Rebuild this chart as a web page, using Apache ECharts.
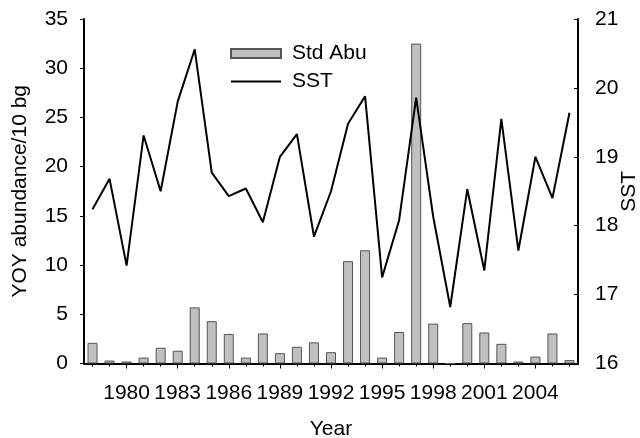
<!DOCTYPE html>
<html>
<head>
<meta charset="utf-8">
<script src="https://cdn.jsdelivr.net/npm/echarts@6/dist/echarts.min.js"></script>
<style>
  html, body { margin: 0; padding: 0; background: #fff; }
  #chart { width: 640px; height: 438px; }
</style>
</head>
<body>
<div id="chart"></div>
<script>
// Survey years
const years = ['1978','1979','1980','1981','1982','1983','1984','1985','1986','1987',
  '1988','1989','1990','1991','1992','1993','1994','1995','1996','1997',
  '1998','1999','2000','2001','2002','2003','2004','2005','2006'];

// Standardised YOY abundance per 10 beach-seine hauls
const stdAbu = [2.1, 0.3, 0.2, 0.6, 1.6, 1.3, 5.7, 4.3, 3.0, 0.6,
  3.05, 1.05, 1.7, 2.15, 1.15, 10.4, 11.5, 0.6, 3.2, 32.5,
  4.05, 0, 4.1, 3.15, 2.0, 0.2, 0.7, 3.05, 0.35];

// Sea surface temperature
const sst = [18.24, 18.68, 17.42, 19.31, 18.50, 19.80, 20.56, 18.77, 18.43, 18.54,
  18.05, 19.00, 19.33, 17.84, 18.50, 19.48, 19.88, 17.25, 18.08, 19.86,
  18.13, 16.82, 18.53, 17.35, 19.55, 17.64, 19.00, 18.40, 19.64];

const FONT = 'Liberation Sans, Arial, sans-serif';
const FS = 21;
const labelEvery3 = (i) => (i - 2) % 3 === 0;

const chart = echarts.init(document.getElementById('chart'), null, { renderer: 'canvas' });

chart.setOption({
  animation: false,
  backgroundColor: '#fff',
  textStyle: { fontFamily: FONT, color: '#000' },
  grid: { left: 84, right: 62, top: 19, bottom: 74.5, outerBoundsMode: 'none', containLabel: false },
  legend: {
    orient: 'vertical',
    left: 225,
    top: 38,
    itemWidth: 50,
    itemHeight: 9,
    itemGap: 7,
    symbolKeepAspect: true,
    textStyle: { fontFamily: FONT, fontSize: FS, color: '#000', lineHeight: 21, padding: [0, 0, 0, 6] },
    data: [
      { name: 'Std Abu', icon: 'rect' },
      { name: 'SST', icon: 'path://M0,0L50,0L50,2L0,2Z', itemStyle: { color: '#000', borderWidth: 0 } }
    ]
  },
  xAxis: [
    {
      type: 'category',
      data: years,
      boundaryGap: true,
      name: 'Year',
      nameLocation: 'middle',
      nameGap: 55,
      nameMoveOverlap: false,
      nameTextStyle: { fontFamily: FONT, fontSize: FS, color: '#000' },
      axisLine: { lineStyle: { color: '#000', width: 2 } },
      axisTick: { show: true, alignWithLabel: true, interval: labelEvery3, length: 5, lineStyle: { color: '#000', width: 1 } },
      axisLabel: { interval: labelEvery3, margin: 19, fontFamily: FONT, fontSize: FS, color: '#000' },
      splitLine: { show: false }
    },
    {
      type: 'category',
      data: years,
      boundaryGap: true,
      position: 'bottom',
      axisLine: { show: false },
      axisTick: { show: true, alignWithLabel: true, interval: 0, length: 3, lineStyle: { color: '#000', width: 1 } },
      axisLabel: { show: false },
      splitLine: { show: false }
    }
  ],
  yAxis: [
    {
      type: 'value',
      min: 0,
      max: 35,
      interval: 5,
      position: 'left',
      name: 'YOY abundance/10 bg',
      nameLocation: 'middle',
      nameGap: 53,
      nameMoveOverlap: false,
      nameTextStyle: { fontFamily: FONT, fontSize: FS, color: '#000' },
      axisLine: { show: true, lineStyle: { color: '#000', width: 2 } },
      axisTick: { show: true, length: 4, lineStyle: { color: '#000', width: 1 } },
      axisLabel: { margin: 16, fontFamily: FONT, fontSize: FS, color: '#000' },
      splitLine: { show: false }
    },
    {
      type: 'value',
      min: 16,
      max: 21,
      interval: 1,
      position: 'right',
      name: 'SST',
      nameLocation: 'middle',
      nameGap: 41,
      nameMoveOverlap: false,
      nameTextStyle: { fontFamily: FONT, fontSize: FS, color: '#000' },
      axisLine: { show: true, lineStyle: { color: '#000', width: 2 } },
      axisTick: { show: true, inside: true, length: 4, lineStyle: { color: '#000', width: 1 } },
      axisLabel: { margin: 17, fontFamily: FONT, fontSize: FS, color: '#000' },
      splitLine: { show: false }
    }
  ],
  series: [
    {
      name: 'Std Abu',
      type: 'bar',
      xAxisIndex: 0,
      yAxisIndex: 0,
      data: stdAbu,
      barWidth: 10,
      itemStyle: { color: '#c0c0c0', borderColor: '#555', borderWidth: 1 }
    },
    {
      name: 'SST',
      type: 'line',
      xAxisIndex: 0,
      yAxisIndex: 1,
      data: sst,
      symbol: 'none',
      showSymbol: false,
      lineStyle: { color: '#000', width: 2 },
      itemStyle: { color: '#000' },
      z: 3
    }
  ]
});
</script>
</body>
</html>
